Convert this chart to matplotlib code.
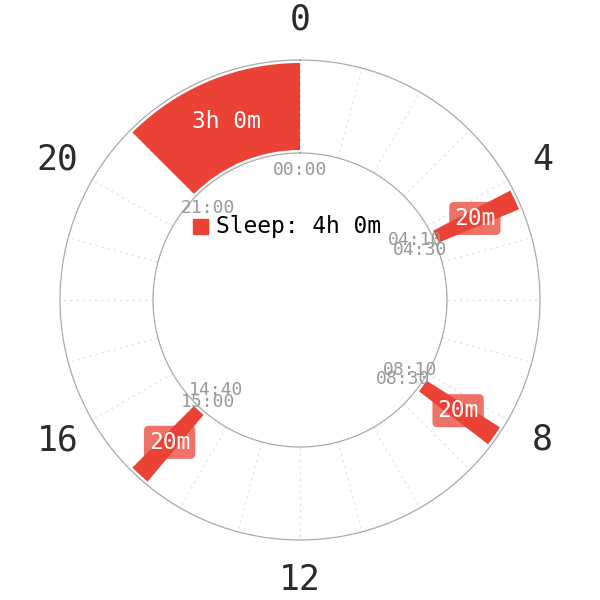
import numpy as np
import matplotlib
matplotlib.use("Agg")
import matplotlib.pyplot as plt
from matplotlib.patches import Rectangle

# ---- data ----
starts = ["21:00", "04:10", "08:10", "14:40"]
ends = ["00:00", "04:30", "08:30", "15:00"]
durations = ["3h 0m", "20m", "20m", "20m"]
total_label = "Sleep: 4h 0m"
hour_ticks = [0, 4, 8, 12, 16, 20]

# label nudges (points) to separate close start/end labels
start_dy = [0, 0, 0, 7]
end_dy = [0, 0, 0, -7]

RED = "#EA4335"
MONO = "DejaVu Sans Mono"


def to_hours(s):
    h, m = s.split(":")
    return int(h) + int(m) / 60.0


def to_theta(h):
    return h / 24.0 * 2 * np.pi


fig = plt.figure(figsize=(6, 6), dpi=100)
ax = fig.add_axes([0, 0, 1, 1], projection="polar")
ax.set_theta_zero_location("N")
ax.set_theta_direction(-1)
ax.set_ylim(0, 300)
ax.set_axis_off()

r_in_circle, r_out_circle = 147, 240
r_bar_in, r_bar_out = 150, 237

# circles
tt = np.linspace(0, 2 * np.pi, 720)
ax.plot(tt, np.full_like(tt, r_in_circle), color="#AAAAAA", lw=0.9, zorder=2)
ax.plot(tt, np.full_like(tt, r_out_circle), color="#AAAAAA", lw=0.9, zorder=2)

# hourly dotted grid
for h in range(24):
    th = to_theta(h)
    ax.plot([th, th], [r_in_circle, r_out_circle], color="#E0E0E0", lw=1,
            ls=(0, (1.5, 3)), zorder=1)

# hour labels
for h in hour_ticks:
    ax.text(to_theta(h), 280, str(h), ha="center", va="center",
            fontsize=25, family=MONO, color="#2b2b2b")

# sleep segments
for s, e, d, sdy, edy in zip(starts, ends, durations, start_dy, end_dy):
    hs, he = to_hours(s), to_hours(e)
    if he <= hs:
        he += 24
    t0, t1 = to_theta(hs), to_theta(he)
    ax.bar((t0 + t1) / 2, r_bar_out - r_bar_in, width=t1 - t0, bottom=r_bar_in,
           color=RED, edgecolor="none", zorder=3)
    tm = (t0 + t1) / 2
    ax.text(tm, 193, d, ha="center", va="center", fontsize=16.5, family=MONO,
            color="white", zorder=5,
            bbox=dict(boxstyle="round,pad=0.22", fc=RED, ec="none", alpha=0.75))
    ax.annotate(s, (t0, 130), xytext=(0, sdy), textcoords="offset points",
                ha="center", va="center", fontsize=13, family=MONO,
                color="#999999", zorder=4)
    ax.annotate(e, (t1, 130), xytext=(0, edy), textcoords="offset points",
                ha="center", va="center", fontsize=13, family=MONO,
                color="#999999", zorder=4)

# center legend
fig.add_artist(Rectangle((193 / 600, 1 - 234 / 600), 15 / 600, 15 / 600,
                         transform=fig.transFigure, color=RED))
fig.text(216 / 600, 1 - 226 / 600, total_label, ha="left", va="center",
         fontsize=16.5, family=MONO, color="black")

fig.savefig("out.png", dpi=100)
